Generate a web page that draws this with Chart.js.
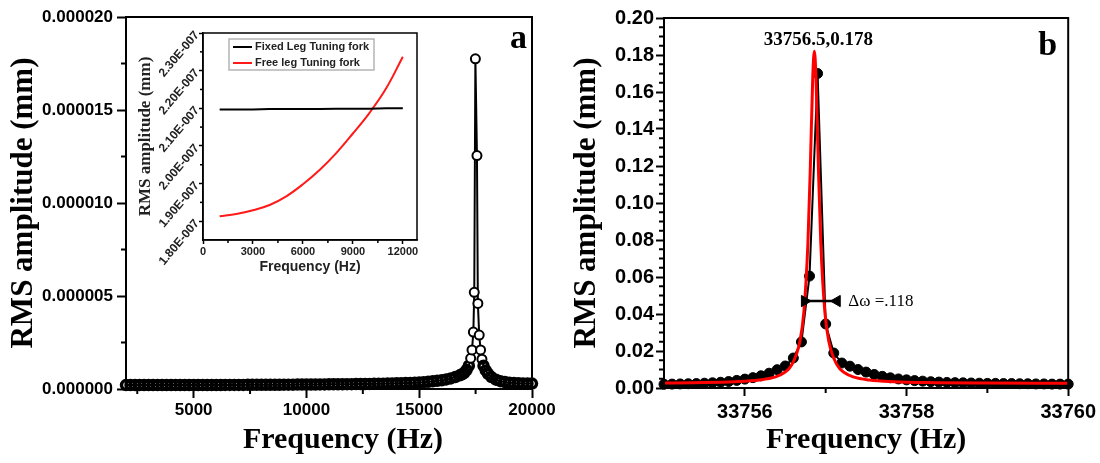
<!DOCTYPE html>
<html>
<head>
<meta charset="utf-8">
<script src="https://cdn.jsdelivr.net/npm/chart.js@4.4.1/dist/chart.umd.min.js"></script>
<style>
  body { margin: 0; background: #fff; }
  #wrap { position: relative; width: 1100px; height: 463px; overflow: hidden; }
  canvas { position: absolute; }
</style>
</head>
<body>
<div id="wrap">
  <canvas id="chartA" width="560" height="463" style="left:0;top:0"></canvas>
  <canvas id="chartB" width="550" height="463" style="left:550px;top:0"></canvas>
  <canvas id="chartInset" width="310" height="270" style="left:120px;top:20px"></canvas>
</div>
<script>
// ---- panel a : wide sweep ----
const freqA = [
  2000, 2200, 2400, 2600, 2800, 3000, 3200, 3400, 3600, 3800,
  4000, 4200, 4400, 4600, 4800, 5000, 5200, 5400, 5600, 5800,
  6000, 6200, 6400, 6600, 6800, 7000, 7200, 7400, 7600, 7800,
  8000, 8200, 8400, 8600, 8800, 9000, 9200, 9400, 9600, 9800,
  10000, 10200, 10400, 10600, 10800, 11000, 11200, 11400, 11600, 11800,
  12000, 12200, 12400, 12600, 12800, 13000, 13200, 13400, 13600, 13800,
  14000, 14200, 14400, 14600, 14800, 15000, 15200, 15400, 15600, 15800,
  16000, 16200, 16400, 16600, 16800, 16900,
  17000, 17100, 17200, 17280, 17340, 17400, 17440, 17490, 17560, 17600,
  17660, 17720, 17780, 17850, 17950, 18050, 18200, 18400, 18600, 18800,
  19000, 19200, 19400, 19600, 19800, 20000
];
const ampA = [
  2.10e-7, 2.10e-7, 2.10e-7, 2.10e-7, 2.10e-7, 2.11e-7, 2.11e-7, 2.11e-7, 2.11e-7, 2.12e-7,
  2.12e-7, 2.12e-7, 2.13e-7, 2.13e-7, 2.14e-7, 2.14e-7, 2.15e-7, 2.15e-7, 2.16e-7, 2.16e-7,
  2.17e-7, 2.17e-7, 2.18e-7, 2.19e-7, 2.19e-7, 2.20e-7, 2.21e-7, 2.22e-7, 2.23e-7, 2.24e-7,
  2.25e-7, 2.26e-7, 2.27e-7, 2.28e-7, 2.30e-7, 2.31e-7, 2.33e-7, 2.34e-7, 2.36e-7, 2.38e-7,
  2.40e-7, 2.42e-7, 2.44e-7, 2.46e-7, 2.48e-7, 2.50e-7, 2.52e-7, 2.55e-7, 2.57e-7, 2.60e-7,
  2.62e-7, 2.65e-7, 2.68e-7, 2.71e-7, 2.75e-7, 2.79e-7, 2.83e-7, 2.87e-7, 2.92e-7, 2.98e-7,
  3.04e-7, 3.11e-7, 3.19e-7, 3.28e-7, 3.39e-7, 3.52e-7, 3.68e-7, 3.87e-7, 4.10e-7, 4.38e-7,
  4.72e-7, 5.15e-7, 5.70e-7, 6.40e-7, 7.35e-7, 7.95e-7,
  8.70e-7, 1.02e-6, 1.25e-6, 1.65e-6, 2.10e-6, 3.06e-6, 5.20e-6, 1.775e-5, 1.255e-5, 4.60e-6,
  2.90e-6, 2.10e-6, 1.60e-6, 1.25e-6, 1.00e-6, 8.20e-7, 6.40e-7, 5.00e-7, 4.20e-7, 3.70e-7,
  3.40e-7, 3.20e-7, 3.10e-7, 3.00e-7, 2.95e-7, 2.90e-7
];
const ticksAX = [5000, 10000, 15000, 20000];
const minorAX = [2500, 7500, 12500, 17500];
const ticksAY = [0, 5e-6, 1e-5, 1.5e-5, 2e-5];
const minorAY = [2.5e-6, 7.5e-6, 1.25e-5, 1.75e-5];

// ---- inset ----
const insetFreq = [1000, 2000, 3000, 4000, 5000, 6000, 7000, 8000, 9000, 10000, 11000, 12000];
const fixedLeg = [2.097e-7, 2.097e-7, 2.097e-7, 2.098e-7, 2.098e-7, 2.098e-7, 2.098e-7, 2.099e-7, 2.099e-7, 2.099e-7, 2.100e-7, 2.100e-7];
const freeLeg = [1.813e-7, 1.819e-7, 1.829e-7, 1.843e-7, 1.866e-7, 1.898e-7, 1.936e-7, 1.981e-7, 2.033e-7, 2.088e-7, 2.153e-7, 2.237e-7];
const insetTicksX = [0, 3000, 6000, 9000, 12000];
const insetMinorX = [1500, 4500, 7500, 10500];
const insetTicksY = [1.8e-7, 1.9e-7, 2.0e-7, 2.1e-7, 2.2e-7, 2.3e-7];
const insetMinorY = [1.85e-7, 1.95e-7, 2.05e-7, 2.15e-7, 2.25e-7];

// ---- panel b : zoom on resonance ----
const freqB = [
  33755.0, 33755.1, 33755.2, 33755.3, 33755.4, 33755.5, 33755.6, 33755.7, 33755.8, 33755.9,
  33756.0, 33756.1, 33756.2, 33756.3, 33756.4, 33756.5, 33756.6, 33756.7, 33756.8, 33756.9,
  33757.0, 33757.1, 33757.2, 33757.3, 33757.4, 33757.5, 33757.6, 33757.7, 33757.8, 33757.9,
  33758.0, 33758.1, 33758.2, 33758.3, 33758.4, 33758.5, 33758.6, 33758.7, 33758.8, 33758.9,
  33759.0, 33759.1, 33759.2, 33759.3, 33759.4, 33759.5, 33759.6, 33759.7, 33759.8, 33759.9,
  33760.0
];
const ampB = [
  0.0020, 0.0021, 0.0022, 0.0023, 0.0024, 0.0026, 0.0028, 0.0031, 0.0035, 0.0041,
  0.0048, 0.0056, 0.0066, 0.0080, 0.0099, 0.0119, 0.0162, 0.0249, 0.0605, 0.170,
  0.0346, 0.0189, 0.0135, 0.0118, 0.0100, 0.0086, 0.0073, 0.0063, 0.0055, 0.0049,
  0.0044, 0.0040, 0.0037, 0.0034, 0.0032, 0.0030, 0.0029, 0.0028, 0.0027, 0.0026,
  0.0025, 0.0025, 0.0024, 0.0024, 0.0023, 0.0023, 0.0022, 0.0022, 0.0021, 0.0021,
  0.0021
];
const fitFreq = [
  33755.0, 33755.36, 33755.88, 33756.18, 33756.38, 33756.48, 33756.58, 33756.68, 33756.73,
  33756.78, 33756.81, 33756.84, 33756.86, 33756.88, 33756.91, 33756.94, 33756.99, 33757.04,
  33757.14, 33757.24, 33757.34, 33757.54, 33757.84, 33758.36, 33759.0, 33760.0
];
const fitAmp = [
  0.0027, 0.0029, 0.0034, 0.0043, 0.0060, 0.0081, 0.0125, 0.0250, 0.0410,
  0.0780, 0.1190, 0.1680, 0.1820, 0.1680, 0.1190, 0.0780, 0.0410, 0.0250,
  0.0125, 0.0081, 0.0060, 0.0043, 0.0034, 0.0029, 0.0027, 0.0026
];
const widthFreq = [33756.74, 33757.14];
const widthAmp = [0.047, 0.047];
const ticksBX = [33756, 33758, 33760];
const minorBX = [33757, 33759];
const ticksBY = [0, 0.02, 0.04, 0.06, 0.08, 0.10, 0.12, 0.14, 0.16, 0.18, 0.20];
const minorBY = [0.005, 0.01, 0.015, 0.025, 0.03, 0.035, 0.045, 0.05, 0.055, 0.065, 0.07, 0.075,
  0.085, 0.09, 0.095, 0.105, 0.11, 0.115, 0.125, 0.13, 0.135, 0.145, 0.15, 0.155,
  0.165, 0.17, 0.175, 0.185, 0.19, 0.195];

const SANS = '"Liberation Sans", Arial, sans-serif';
const SERIF = '"Liberation Serif", "Times New Roman", serif';

Chart.defaults.color = '#000';

function pts(xs, ys) {
  return xs.map((x, i) => ({ x: x, y: ys[i] }));
}

// frame box, minor ticks, free text and (for the inset) the legend box
function makeDecor(cfg) {
  return {
    id: 'decor',
    afterDraw(chart) {
      const ctx = chart.ctx, a = chart.chartArea;
      const sx = chart.scales.x, sy = chart.scales.y;
      ctx.save();
      ctx.strokeStyle = '#000';
      ctx.lineWidth = cfg.frame;
      ctx.strokeRect(a.left, a.top, a.right - a.left, a.bottom - a.top);

      ctx.lineWidth = cfg.tickWidth;
      cfg.minorX.forEach(v => {
        const x = sx.getPixelForValue(v);
        ctx.beginPath(); ctx.moveTo(x, a.bottom); ctx.lineTo(x, a.bottom + cfg.minorLen); ctx.stroke();
      });
      cfg.minorY.forEach(v => {
        const y = sy.getPixelForValue(v);
        ctx.beginPath(); ctx.moveTo(a.left, y); ctx.lineTo(a.left - cfg.minorLen, y); ctx.stroke();
      });

      if (cfg.legend) {
        const bx = a.left + 26, by = a.top + 6;
        ctx.strokeStyle = '#b4b4b4';
        ctx.lineWidth = 1.5;
        ctx.strokeRect(bx, by, 145, 31);
        chart.data.datasets.forEach((ds, i) => {
          const y = by + 8 + i * 16;
          ctx.strokeStyle = ds.borderColor;
          ctx.lineWidth = 2;
          ctx.beginPath(); ctx.moveTo(bx + 4, y); ctx.lineTo(bx + 23, y); ctx.stroke();
          ctx.fillStyle = '#222';
          ctx.font = 'bold 11px ' + SANS;
          ctx.textAlign = 'left';
          ctx.textBaseline = 'middle';
          ctx.fillText(ds.label, bx + 26, y);
        });
      }

      (cfg.texts || []).forEach(t => {
        ctx.font = t.font;
        ctx.fillStyle = '#000';
        ctx.textAlign = t.align;
        ctx.textBaseline = t.baseline;
        let x, y;
        if (t.xv !== undefined) x = sx.getPixelForValue(t.xv);
        else x = (t.fromX === 'right' ? a.right : (a.left + a.right) / 2) + t.dx;
        if (t.yv !== undefined) y = sy.getPixelForValue(t.yv);
        else y = (t.fromY === 'top' ? a.top : a.bottom) + t.dy;
        ctx.fillText(t.text, x, y);
      });
      ctx.restore();
    }
  };
}

function fixTicks(list) {
  return s => { s.ticks = list.map(v => ({ value: v })); };
}

// ---------- panel a ----------
new Chart(document.getElementById('chartA'), {
  type: 'line',
  data: {
    datasets: [{
      data: pts(freqA, ampA),
      borderColor: '#000',
      borderWidth: 2,
      pointRadius: 4.5,
      pointBorderWidth: c => (c.raw && c.raw.y > 1.5e-6) ? 2 : 3.5,
      pointBorderColor: '#000',
      pointBackgroundColor: c => (c.raw && c.raw.y > 1.5e-6) ? '#fff' : 'rgba(0,0,0,0)',
      tension: 0,
      clip: false
    }]
  },
  options: {
    responsive: false,
    animation: false,
    events: [],
    layout: { padding: { left: 0, right: 28, top: 17, bottom: 0 } },
    plugins: { legend: { display: false }, tooltip: { enabled: false } },
    scales: {
      x: {
        type: 'linear', min: 2000, max: 20000,
        afterBuildTicks: fixTicks(ticksAX),
        afterFit: s => { s.height = 74; },
        ticks: { callback: v => String(v), autoSkip: false, maxRotation: 0, padding: 2,
                 font: { family: SANS, size: 17, weight: 'bold' } },
        grid: { drawOnChartArea: false, tickLength: 9, tickWidth: 2, tickColor: '#000' },
        border: { color: '#000', width: 2 }
      },
      y: {
        type: 'linear', min: 0, max: 2e-5,
        afterBuildTicks: fixTicks(ticksAY),
        afterFit: s => { s.width = 126; },
        ticks: { callback: v => v.toFixed(6), padding: 4,
                 font: { family: SANS, size: 17, weight: 'bold' } },
        grid: { drawOnChartArea: false, tickLength: 9, tickWidth: 2, tickColor: '#000' },
        border: { color: '#000', width: 2 },
        title: { display: true, text: 'RMS amplitude (mm)', padding: { top: 5, bottom: 0 },
                 font: { family: SERIF, size: 31, weight: 'bold' } }
      }
    }
  },
  plugins: [makeDecor({
    frame: 2, tickWidth: 2, minorLen: 5, minorX: minorAX, minorY: minorAY,
    texts: [
      { text: 'a', font: 'bold 34px ' + SERIF, align: 'right', baseline: 'alphabetic', fromX: 'right', dx: -5, fromY: 'top', dy: 31 },
      { text: 'Frequency (Hz)', font: 'bold 30px ' + SERIF, align: 'center', baseline: 'middle', fromX: 'center', dx: 14, fromY: 'bottom', dy: 51 }
    ]
  })]
});

// ---------- inset ----------
new Chart(document.getElementById('chartInset'), {
  type: 'line',
  data: {
    datasets: [
      { label: 'Fixed Leg Tuning fork', data: pts(insetFreq, fixedLeg), borderColor: '#000',
        borderWidth: 2, pointRadius: 0, tension: 0 },
      { label: 'Free leg Tuning fork', data: pts(insetFreq, freeLeg), borderColor: '#ff1a1a',
        borderWidth: 2, pointRadius: 0, tension: 0.4 }
    ]
  },
  options: {
    responsive: false,
    animation: false,
    events: [],
    layout: { padding: { left: 0, right: 13, top: 13, bottom: 0 } },
    plugins: { legend: { display: false }, tooltip: { enabled: false } },
    scales: {
      x: {
        type: 'linear', min: 0, max: 12850,
        afterBuildTicks: fixTicks(insetTicksX),
        afterFit: s => { s.height = 50; },
        ticks: { callback: v => String(v), autoSkip: false, maxRotation: 0, padding: 1, color: '#222',
                 font: { family: SANS, size: 11, weight: 'bold' } },
        grid: { drawOnChartArea: false, tickLength: 4, tickWidth: 1.5, tickColor: '#000' },
        border: { color: '#000', width: 1.5 },
        title: { display: true, text: 'Frequency (Hz)', color: '#222', padding: { top: 0, bottom: 14 },
                 font: { family: SANS, size: 14, weight: 'bold' } }
      },
      y: {
        type: 'linear', min: 1.75e-7, max: 2.3e-7,
        afterBuildTicks: fixTicks(insetTicksY),
        afterFit: s => { s.width = 83; },
        ticks: { callback: v => (v * 1e7).toFixed(2) + 'E-007', minRotation: 50, maxRotation: 50,
                 padding: 2, color: '#222', font: { family: SANS, size: 12, weight: 'bold' } },
        grid: { drawOnChartArea: false, tickLength: 4, tickWidth: 1.5, tickColor: '#000' },
        border: { color: '#000', width: 1.5 },
        title: { display: true, text: 'RMS amplitude (mm)', color: '#222', padding: { top: 15, bottom: 0 },
                 font: { family: SERIF, size: 17, weight: 'bold' } }
      }
    }
  },
  plugins: [makeDecor({
    frame: 1.5, tickWidth: 1.5, minorLen: 3, minorX: insetMinorX, minorY: insetMinorY, legend: true
  })]
});

// ---------- panel b ----------
new Chart(document.getElementById('chartB'), {
  type: 'line',
  data: {
    datasets: [
      { data: pts(widthFreq, widthAmp), borderColor: '#000', borderWidth: 2.5,
        pointStyle: 'triangle', pointRadius: 6.5, pointRotation: [90, -90],
        pointBackgroundColor: '#000', pointBorderColor: '#000', pointBorderWidth: 1, order: 0 },
      { data: pts(fitFreq, fitAmp), borderColor: '#ff0000', borderWidth: 3, pointRadius: 0,
        cubicInterpolationMode: 'monotone', order: 1, clip: false },
      { data: pts(freqB, ampB), borderColor: '#000', borderWidth: 2, pointRadius: 5,
        pointBackgroundColor: '#000', pointBorderColor: '#000', pointBorderWidth: 1,
        tension: 0, order: 2, clip: false }
    ]
  },
  options: {
    responsive: false,
    animation: false,
    events: [],
    layout: { padding: { left: 0, right: 30, top: 18, bottom: 0 } },
    plugins: { legend: { display: false }, tooltip: { enabled: false } },
    scales: {
      x: {
        type: 'linear', min: 33755, max: 33760,
        afterBuildTicks: fixTicks(ticksBX),
        afterFit: s => { s.height = 75; },
        ticks: { callback: v => String(v), autoSkip: false, maxRotation: 0, padding: 4,
                 font: { family: SANS, size: 20, weight: 'bold' } },
        grid: { drawOnChartArea: false, tickLength: 8, tickWidth: 2, tickColor: '#000' },
        border: { color: '#000', width: 2 },
        title: { display: true, text: 'Frequency (Hz)', padding: { top: 0, bottom: 5 },
                 font: { family: SERIF, size: 30, weight: 'bold' } }
      },
      y: {
        type: 'linear', min: 0, max: 0.2,
        afterBuildTicks: fixTicks(ticksBY),
        afterFit: s => { s.width = 114; },
        ticks: { callback: v => v.toFixed(2), padding: 2,
                 font: { family: SANS, size: 20, weight: 'bold' } },
        grid: { drawOnChartArea: false, tickLength: 8, tickWidth: 2, tickColor: '#000' },
        border: { color: '#000', width: 2 },
        title: { display: true, text: 'RMS amplitude (mm)', padding: { top: 18, bottom: 0 },
                 font: { family: SERIF, size: 31, weight: 'bold' } }
      }
    }
  },
  plugins: [makeDecor({
    frame: 2, tickWidth: 2, minorLen: 5, minorX: minorBX, minorY: minorBY,
    texts: [
      { text: 'b', font: 'bold 34px ' + SERIF, align: 'right', baseline: 'alphabetic', fromX: 'right', dx: -11, fromY: 'top', dy: 37 },
      { text: '33756.5,0.178', font: 'bold 19px ' + SERIF, align: 'center', baseline: 'middle', xv: 33756.91, yv: 0.188 },
      { text: 'Δω =.118', font: '17px ' + SERIF, align: 'left', baseline: 'middle', xv: 33757.28, yv: 0.047 }
    ]
  })]
});
</script>
</body>
</html>
